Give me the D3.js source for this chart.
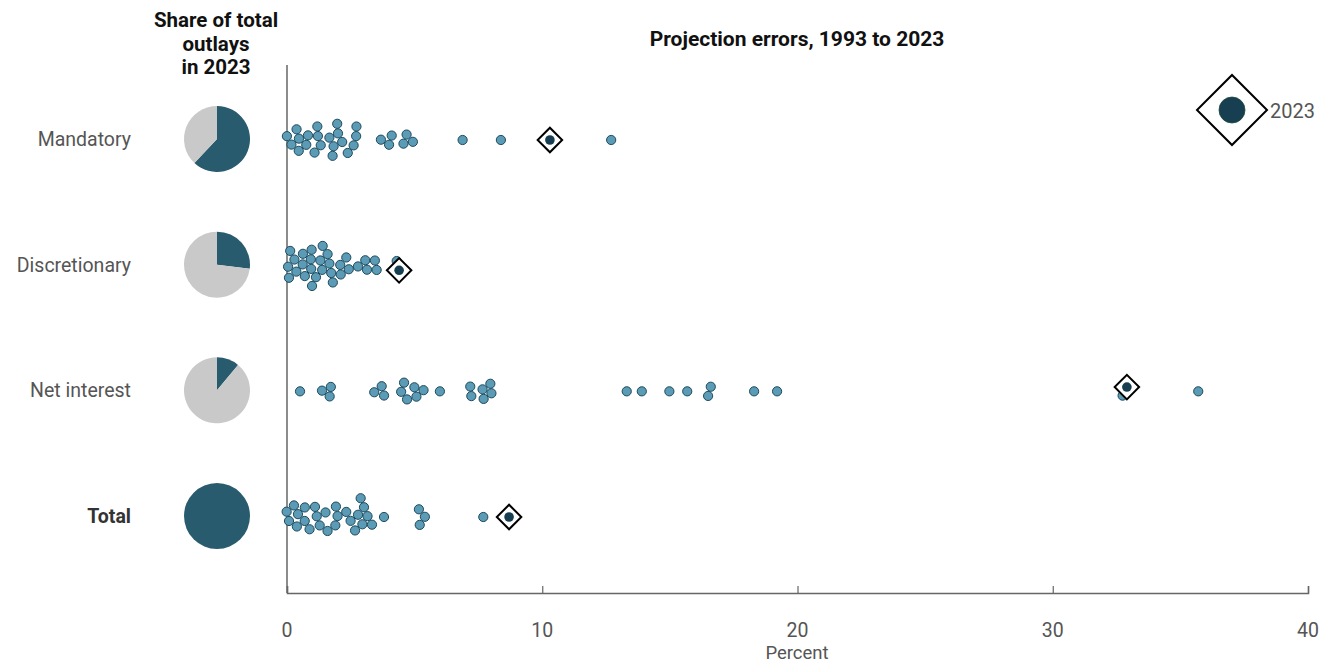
<!DOCTYPE html>
<html>
<meta charset="utf-8">
<head>
    <script src="https://d3js.org/d3.v7.min.js"></script>
    <style>
        body { margin: 0; background: #fff; }
        text { font-family: Roboto, "Noto Sans", sans-serif; }
    </style>
</head>
<body>
    <script>

        var width = 1328,
            height = 664;

        // rows of the chart
        var categories = ["Mandatory", "Discretionary", "Net interest", "Total"];

        // share of total outlays in 2023, percent
        var shares = [62, 27, 11, 100];

        // projection errors 1993 to 2022, percent (absolute)
        var mandatoryErrors = [0.0, 0.18, 0.38, 0.48, 0.51, 0.7, 0.8, 1.1, 1.19, 1.22, 1.29, 1.68, 1.79, 1.88,
            1.97, 2.0, 2.08, 2.4, 2.6, 2.7, 2.72, 3.68, 4.0, 4.1, 4.58, 4.69, 4.91, 6.88, 8.38, 12.7];
        var discretionaryErrors = [0.1, 0.12, 0.14, 0.27, 0.31, 0.67, 0.7, 0.72, 0.87, 0.9, 0.92, 1.0, 1.1,
            1.38, 1.42, 1.44, 1.53, 1.62, 1.68, 1.79, 2.1, 2.12, 2.31, 2.4, 2.79, 3.08, 3.12, 3.42, 3.51, 4.3];
        var netInterestErrors = [0.51, 1.4, 1.66, 1.7, 3.42, 3.71, 3.8, 4.49, 4.58, 4.69, 5.01, 5.08, 5.32, 5.99,
            7.18, 7.22, 7.67, 7.71, 7.96, 8.0, 13.31, 13.9, 14.98, 15.68, 16.5, 16.6, 18.3, 19.2, 32.74, 35.7];
        var totalErrors = [0.0, 0.09, 0.27, 0.38, 0.48, 0.66, 0.68, 0.87, 1.1, 1.19, 1.29, 1.49, 1.59, 1.88,
            1.92, 1.99, 2.3, 2.5, 2.7, 2.79, 2.9, 2.99, 3.02, 3.1, 3.28, 3.8, 5.18, 5.21, 5.38, 7.69];

        // error for 2023 in each row
        var errors2023 = [10.3, 4.39, 32.9, 8.7];

        var xTicks = [0, 10, 20, 30, 40];

        var rowErrors = [mandatoryErrors, discretionaryErrors, netInterestErrors, totalErrors];

        var darkBlue = "#295b6e",
            dotFill = "#5b9bb6",
            dotStroke = "#1d4a5c",
            dot2023 = "#173f51",
            lightGray = "#c9c9c9",
            textGray = "#555";

        var svg = d3.select("body").append("svg")
            .attr("width", width)
            .attr("height", height);

        var x = d3.scaleLinear()
            .domain([0, 40])
            .range([287, 1308]);

        var y = d3.scalePoint()
            .domain(categories)
            .range([140, 517]);

        // titles
        var shareTitle = svg.append("text")
            .attr("x", 216)
            .attr("y", 27)
            .attr("text-anchor", "middle")
            .attr("font-weight", "bold")
            .attr("font-size", 20.5)
            .attr("fill", "#111");
        ["Share of total", "outlays", "in 2023"].forEach(function(t, i) {
            shareTitle.append("tspan")
                .attr("x", 216)
                .attr("dy", i ? 23.5 : 0)
                .text(t);
        });

        svg.append("text")
            .attr("x", 797)
            .attr("y", 46)
            .attr("text-anchor", "middle")
            .attr("font-weight", "bold")
            .attr("font-size", 21)
            .attr("fill", "#111")
            .text("Projection errors, 1993 to 2023");

        // category labels
        svg.selectAll(".cat")
            .data(categories)
            .enter()
            .append("text")
            .attr("class", "cat")
            .attr("x", 131)
            .attr("y", d => y(d) + 6)
            .attr("text-anchor", "end")
            .attr("font-size", 19.5)
            .attr("font-weight", d => d == "Total" ? "bold" : "normal")
            .attr("fill", d => d == "Total" ? "#333" : textGray)
            .text(d => d);

        // pies
        var pie = d3.pie().sort(null);
        var arc = d3.arc().innerRadius(0).outerRadius(33);

        categories.forEach(function(c, i) {
            var g = svg.append("g")
                .attr("transform", "translate(217," + (y(c) - 1) + ")");
            g.selectAll("path")
                .data(pie([shares[i], 100 - shares[i]]))
                .enter()
                .append("path")
                .attr("d", arc)
                .attr("fill", (d, j) => j == 0 ? darkBlue : lightGray);
        });

        // axes
        svg.append("line")
            .attr("x1", x(0)).attr("x2", x(0))
            .attr("y1", 65).attr("y2", 593)
            .attr("stroke", "#666")
            .attr("stroke-width", 1.5);

        var xAxis = svg.append("g")
            .attr("transform", "translate(0,593)")
            .call(d3.axisTop(x).tickValues(xTicks).tickSize(7).tickFormat(""));
        xAxis.select(".domain").attr("stroke", "#666").attr("stroke-width", 1.5);
        xAxis.selectAll(".tick line").attr("stroke", "#666").attr("stroke-width", 1.2);

        svg.selectAll(".xlab")
            .data(xTicks)
            .enter()
            .append("text")
            .attr("class", "xlab")
            .attr("x", d => x(d))
            .attr("y", 637)
            .attr("text-anchor", "middle")
            .attr("font-size", 19.5)
            .attr("fill", textGray)
            .text(d => d);

        svg.append("text")
            .attr("x", 797)
            .attr("y", 659)
            .attr("text-anchor", "middle")
            .attr("font-size", 18.5)
            .attr("fill", textGray)
            .text("Percent");

        // beeswarm rows
        categories.forEach(function(c, i) {
            var nodes = rowErrors[i].map(v => ({ value: v, is2023: false }));
            nodes.push({ value: errors2023[i], is2023: true });
            nodes.forEach(function(n) { n.x = x(n.value); n.y = y(c); });

            d3.forceSimulation(nodes)
                .force("x", d3.forceX(d => x(d.value)).strength(1))
                .force("y", d3.forceY(y(c)).strength(0.05))
                .force("collide", d3.forceCollide(4.8))
                .stop()
                .tick(300);

            var g = svg.append("g");

            g.selectAll("circle")
                .data(nodes.filter(n => !n.is2023))
                .enter()
                .append("circle")
                .attr("cx", d => d.x)
                .attr("cy", d => d.y)
                .attr("r", 4.6)
                .attr("fill", dotFill)
                .attr("stroke", dotStroke)
                .attr("stroke-width", 1);

            var last = nodes.filter(n => n.is2023)[0];
            g.append("path")
                .attr("d", d3.symbol().type(d3.symbolSquare).size(300))
                .attr("transform", "translate(" + last.x + "," + last.y + ") rotate(45)")
                .attr("fill", "white")
                .attr("stroke", "black")
                .attr("stroke-width", 2);
            g.append("circle")
                .attr("cx", last.x)
                .attr("cy", last.y)
                .attr("r", 4.8)
                .attr("fill", dot2023);
        });

        // legend
        var legend = svg.append("g")
            .attr("transform", "translate(1232,110)");
        legend.append("path")
            .attr("d", d3.symbol().type(d3.symbolSquare).size(2450))
            .attr("transform", "rotate(45)")
            .attr("fill", "white")
            .attr("stroke", "black")
            .attr("stroke-width", 2);
        legend.append("circle")
            .attr("r", 13)
            .attr("fill", dot2023)
            .attr("stroke", "#1d4a3c")
            .attr("stroke-width", 0.8);
        legend.append("text")
            .attr("x", 38)
            .attr("y", 8)
            .attr("font-size", 20)
            .attr("fill", textGray)
            .text("2023");

    </script>
</body>
</html>
